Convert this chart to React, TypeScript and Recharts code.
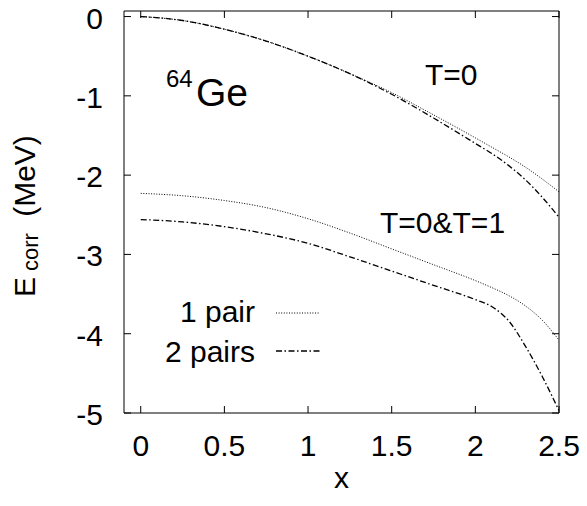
import { LineChart, Line, XAxis, YAxis, Customized } from "recharts";

// x grid shared by every curve
const xs = [0, 0.25, 0.5, 0.75, 1.0, 1.25, 1.5, 1.75, 2.0, 2.1, 2.2, 2.3, 2.4, 2.5];

// T=0
const onePairT0 = [0, -0.05, -0.16, -0.31, -0.5, -0.72, -0.96, -1.24, -1.53, -1.65, -1.77, -1.9, -2.05, -2.21];
const twoPairsT0 = [0, -0.05, -0.16, -0.31, -0.5, -0.72, -0.98, -1.28, -1.6, -1.73, -1.88, -2.06, -2.28, -2.53];

// T=0&T=1
const onePairT01 = [-2.23, -2.26, -2.32, -2.41, -2.55, -2.73, -2.93, -3.13, -3.33, -3.42, -3.52, -3.65, -3.83, -4.08];
const twoPairsT01 = [-2.56, -2.59, -2.65, -2.74, -2.86, -3.03, -3.21, -3.39, -3.57, -3.66, -3.84, -4.16, -4.54, -4.97];

const xTicks = [0, 0.5, 1, 1.5, 2, 2.5];
const yTicks = [-5, -4, -3, -2, -1, 0];

const FONT = "'Liberation Sans', Arial, Helvetica, sans-serif";
const DOT = "1 1.6";
const DASHDOT = "6 2.5 1.5 2.5";
const TICK = 7;

const toPts = (ys: number[]) => xs.map((x, i) => ({ x, y: ys[i] }));

const BottomTick = ({ x, y, payload }: any) => (
  <g>
    <line x1={x} x2={x} y1={y} y2={y - TICK} stroke="#000" />
    <text x={x} y={y + 43} textAnchor="middle" fontSize={30} fontFamily={FONT} fill="#000">
      {payload.value}
    </text>
  </g>
);
const TopTick = ({ x, y }: any) => <line x1={x} x2={x} y1={y} y2={y + TICK} stroke="#000" />;
const LeftTick = ({ x, y, payload }: any) => (
  <g>
    <line x1={x} x2={x + TICK} y1={y} y2={y} stroke="#000" />
    <text x={x - 21} y={y + 12} textAnchor="end" fontSize={30} fontFamily={FONT} fill="#000">
      {payload.value}
    </text>
  </g>
);
const RightTick = ({ x, y }: any) => <line x1={x} x2={x - TICK} y1={y} y2={y} stroke="#000" />;

const Notes = () => (
  <g fontFamily={FONT} fill="#000">
    <text x={166} y={87} fontSize={24}>64</text>
    <text x={196} y={106} fontSize={39}>Ge</text>
    <text x={425} y={85} fontSize={30}>T=0</text>
    <text x={380} y={233} fontSize={30}>T=0&amp;T=1</text>
    <text x={255} y={322} fontSize={30} textAnchor="end">1 pair</text>
    <text x={255} y={362} fontSize={30} textAnchor="end">2 pairs</text>
    <line x1={276} x2={320} y1={313} y2={313} stroke="#000" strokeDasharray={DOT} />
    <line x1={276} x2={320} y1={351} y2={351} stroke="#000" strokeWidth={1.3} strokeDasharray={DASHDOT} />
    <text x={341.5} y={488} fontSize={30} textAnchor="middle">x</text>
    <text x={35} y={287} fontSize={30} textAnchor="middle" transform="rotate(-90 35 287)">E</text>
    <text x={38} y={252} fontSize={22} textAnchor="middle" transform="rotate(-90 38 252)">corr</text>
    <text x={35} y={176} fontSize={30} textAnchor="middle" transform="rotate(-90 35 176)">(MeV)</text>
  </g>
);

export default function App() {
  return (
    <div style={{ position: "absolute", left: 0, top: 0, background: "#fff" }}>
      <LineChart width={587} height={506} margin={{ top: 0, right: 0, left: 0, bottom: 0 }}>
        <XAxis
          xAxisId="b"
          type="number"
          dataKey="x"
          domain={[-0.1, 2.5]}
          ticks={xTicks}
          height={93}
          tickSize={0}
          tickMargin={0}
          tickLine={false}
          axisLine={{ stroke: "#000" }}
          tick={<BottomTick />}
          allowDataOverflow
        />
        <XAxis
          xAxisId="t"
          orientation="top"
          type="number"
          dataKey="x"
          domain={[-0.1, 2.5]}
          ticks={xTicks}
          height={11}
          tickSize={0}
          tickMargin={0}
          tickLine={false}
          axisLine={{ stroke: "#000" }}
          tick={<TopTick />}
          allowDataOverflow
        />
        <YAxis
          yAxisId="l"
          type="number"
          domain={[-5, 0.07]}
          ticks={yTicks}
          width={124}
          tickSize={0}
          tickMargin={0}
          tickLine={false}
          axisLine={{ stroke: "#000" }}
          tick={<LeftTick />}
          allowDataOverflow
        />
        <YAxis
          yAxisId="r"
          orientation="right"
          type="number"
          domain={[-5, 0.07]}
          ticks={yTicks}
          width={28}
          tickSize={0}
          tickMargin={0}
          tickLine={false}
          axisLine={{ stroke: "#000" }}
          tick={<RightTick />}
          allowDataOverflow
        />
        <Line xAxisId="b" yAxisId="l" data={toPts(onePairT0)} dataKey="y" type="monotone" stroke="#000" strokeWidth={1} strokeDasharray={DOT} dot={false} isAnimationActive={false} />
        <Line xAxisId="b" yAxisId="l" data={toPts(twoPairsT0)} dataKey="y" type="monotone" stroke="#000" strokeWidth={1.3} strokeDasharray={DASHDOT} dot={false} isAnimationActive={false} />
        <Line xAxisId="b" yAxisId="l" data={toPts(onePairT01)} dataKey="y" type="monotone" stroke="#000" strokeWidth={1} strokeDasharray={DOT} dot={false} isAnimationActive={false} />
        <Line xAxisId="b" yAxisId="l" data={toPts(twoPairsT01)} dataKey="y" type="monotone" stroke="#000" strokeWidth={1.3} strokeDasharray={DASHDOT} dot={false} isAnimationActive={false} />
        <Customized component={<Notes />} />
      </LineChart>
    </div>
  );
}
